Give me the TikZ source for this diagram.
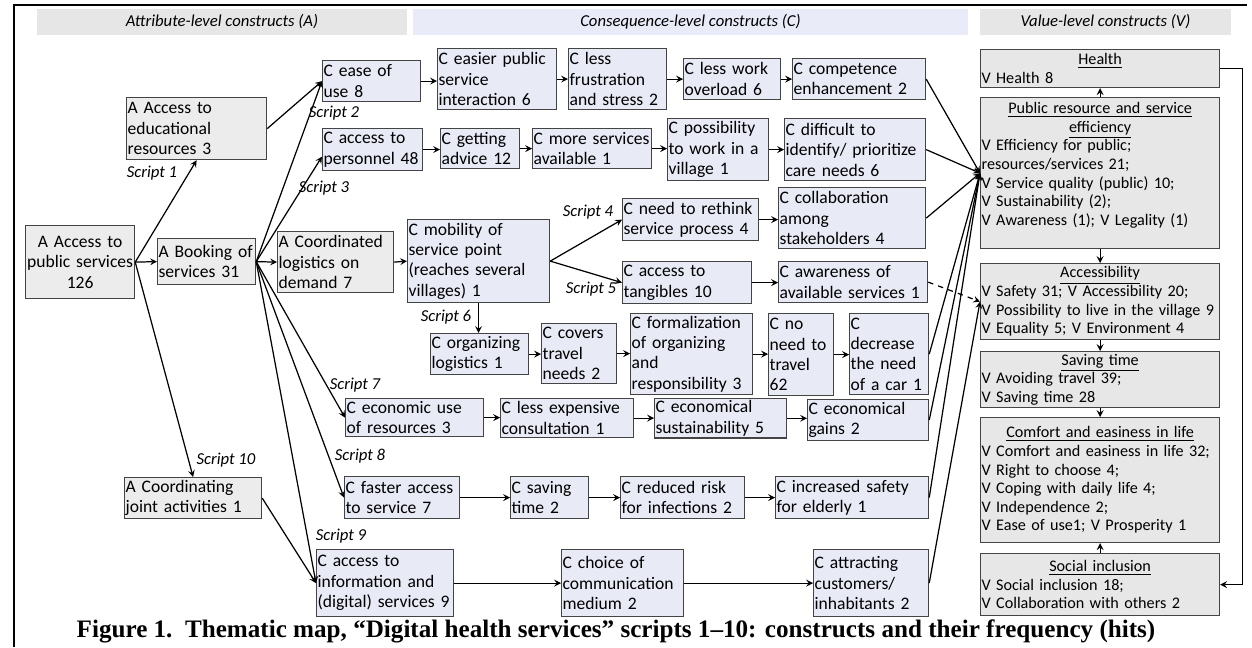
\documentclass[tikz,border=0pt]{standalone}
\usepackage{fontspec}
\setmainfont{Carlito}
\newfontfamily\captionserif{Liberation Serif}
\usetikzlibrary{calc}
\newlength\px
\setlength\px{0.02cm}
\newcommand\boxfont{\fontsize{10}{11.6}\selectfont}
\newcommand\valfont{\fontsize{9.2}{10.6}\selectfont}
\newcommand\scrfont{\fontsize{9.5}{11}\selectfont\itshape}
\definecolor{edgegray}{RGB}{68,68,68}
\definecolor{agray}{RGB}{236,236,236}
\definecolor{clav}{RGB}{232,234,246}
\definecolor{vgray}{RGB}{231,231,231}
\definecolor{hdrgray}{RGB}{230,230,230}
\definecolor{hdrlav}{RGB}{233,235,249}
\tikzset{
	>=stealth,
	abox/.style={draw=edgegray, fill=agray, anchor=north west, inner xsep=1\px, inner ysep=2\px, font=\boxfont, align=left, text width=#1},
	cbox/.style={abox=#1, fill=clav},
	vbox/.style={draw=edgegray, fill=vgray, anchor=north west, inner xsep=1\px, inner ysep=2\px, font=\valfont, align=left, text width=237\px, minimum height=#1},
	scr/.style={font=\scrfont, inner sep=0pt},
	hdr/.style={font=\scrfont, inner sep=0pt, minimum height=26\px},
}

\begin{document}
\begin{tikzpicture}[x=0.02cm, y=-0.02cm, line width=0.7pt]
	\useasboundingbox (0,0) rectangle (1252,647);
	% frame and column headers
	\draw[line width=1.1pt] (14,647) -- (14,5) -- (1247,5);
	\node[hdr, fill=hdrgray, minimum width=370\px] (hA) at (222,22) {Attribute-level constructs (A)};
	\node[hdr, fill=hdrlav, minimum width=555\px] (hC) at (690.5,22) {Consequence-level constructs (C)};
	\node[hdr, fill=hdrgray, minimum width=251\px] (hV) at (1105.5,22) {Value-level constructs (V)};
	
	% attribute level
	\node[abox=107\px, align=center, minimum height=73\px] (apub) at (25,225) {A Access to\\public services\\126};
	\node[abox=138\px, minimum height=62\px] (aedu) at (126,97) {A Access to\\educational\\resources 3};
	\node[abox=96\px, minimum height=46\px] (abook) at (157,238) {A Booking of\\services 31};
	\node[abox=114\px, minimum height=61\px] (alog) at (277,231) {A Coordinated\\logistics on\\demand 7};
	\node[abox=135\px, minimum height=41\px] (ajoint) at (124,477) {A Coordinating\\joint activities 1};
	
	% consequence level
	\node[cbox=96\px, minimum height=41\px] (cease) at (322,60) {C ease of\\use 8};
	\node[cbox=117\px, minimum height=61\px] (ceasier) at (437,48) {C easier public\\service\\interaction 6};
	\node[cbox=96\px, minimum height=61\px] (cfrust) at (568,48) {C less\\frustration\\and stress 2};
	\node[cbox=95\px, minimum height=41\px] (cwork) at (683,58) {C less work\\overload 6};
	\node[cbox=131\px, minimum height=41\px] (ccomp) at (792,58) {C competence\\enhancement 2};
	
	\node[cbox=98\px, minimum height=42\px] (cpers) at (322,128) {C access to\\personnel 48};
	\node[cbox=77\px, minimum height=40\px] (cadvice) at (440,128) {C getting\\advice 12};
	\node[cbox=117\px, minimum height=40\px] (cmore) at (532,128) {C more services\\available 1};
	\node[cbox=99\px, minimum height=62\px] (cvillage) at (667,118) {C possibility\\to work in a\\village 1};
	\node[cbox=139\px, minimum height=62\px] (cdiff) at (784,118) {C difficult to\\identify/ prioritize\\care needs 6};
	
	\node[cbox=140\px, minimum height=83\px] (cmobil) at (407,219) {C mobility of\\service point\\(reaches several\\villages) 1};
	\node[cbox=134\px, minimum height=42\px] (crethink) at (622,198) {C need to rethink\\service process 4};
	\node[cbox=145\px, minimum height=61\px] (ccollab) at (778,187) {C collaboration\\among\\stakeholders 4};
	\node[cbox=127\px, minimum height=42\px] (ctang) at (622,261) {C access to\\tangibles 10};
	\node[cbox=147\px, minimum height=41\px] (caware) at (778,261) {C awareness of\\available services 1};
	
	\node[cbox=96\px, minimum height=41\px] (corg) at (430,333) {C organizing\\logistics 1};
	\node[cbox=73\px, minimum height=60\px] (ctravel) at (541,323) {C covers\\travel\\needs 2};
	\node[cbox=120\px, minimum height=81\px] (cformal) at (630,313) {C formalization\\of organizing\\and\\responsibility 3};
	\node[cbox=63\px, minimum height=82\px] (cnoneed) at (768,313) {C no\\need to\\travel\\62};
	\node[cbox=77\px, minimum height=81\px] (ccar) at (849,313) {C\\decrease\\the need\\of a car 1};
	
	\node[cbox=136\px, minimum height=38\px] (cecouse) at (345,398) {C economic use\\of resources 3};
	\node[cbox=131\px, minimum height=39\px] (cexpens) at (500,398) {C less expensive\\consultation 1};
	\node[cbox=130\px, minimum height=39\px] (csustain) at (654,398) {C economical\\sustainability 5};
	\node[cbox=119\px, minimum height=41\px] (cgains) at (807,399) {C economical\\gains 2};
	
	\node[cbox=113\px, minimum height=42\px] (cfaster) at (344,476) {C faster access\\to service 7};
	\node[cbox=76\px, minimum height=42\px] (csaving) at (510,476) {C saving\\time 2};
	\node[cbox=122\px, minimum height=42\px] (crisk) at (620,476) {C reduced risk\\for infections 2};
	\node[cbox=151\px, minimum height=42\px] (csafety) at (775,476) {C increased safety\\for elderly 1};
	
	\node[cbox=135\px, minimum height=67\px] (cinfo) at (316,549) {C access to\\information and\\(digital) services 9};
	\node[cbox=120\px, minimum height=67\px] (cchoice) at (561,549) {C choice of\\communication\\medium 2};
	\node[cbox=113\px, minimum height=67\px] (cattract) at (813,549) {C attracting\\customers/\\inhabitants 2};
	
	% value level
	\node[vbox=38\px] (vhealth) at (980,49) {{\centering\underline{Health}\par}V Health 8};
	\node[vbox=151\px] (vpublic) at (980,97) {{\centering\underline{Public resource and service}\par\underline{efficiency}\par}V Efficiency for public;\\resources/services 21;\\V Service quality (public) 10;\\V Sustainability (2);\\V Awareness (1); V Legality (1)\par\null};
	\node[vbox=76\px] (vaccess) at (980,263) {{\centering\underline{Accessibility}\par}V Safety 31; V Accessibility 20;\\V Possibility to live in the village 9\\V Equality 5; V Environment 4};
	\node[vbox=56\px] (vsaving) at (980,351) {{\centering\underline{Saving time}\par}V Avoiding travel 39;\\V Saving time 28};
	\node[vbox=125\px] (vcomfort) at (980,417) {{\centering\underline{Comfort and easiness in life}\par}V Comfort and easiness in life 32;\\V Right to choose 4;\\V Coping with daily life 4;\\V Independence 2;\\V Ease of use1; V Prosperity 1};
	\node[vbox=62\px] (vsocial) at (980,553) {{\centering\underline{Social inclusion}\par}V Social inclusion 18;\\V Collaboration with others 2};
	
	% script labels
	\node[scr] (s1) at (152,173) {Script 1};
	\node[scr] (s2) at (334,113) {Script 2};
	\node[scr] (s3) at (324,188) {Script 3};
	\node[scr] (s4) at (588,212) {Script 4};
	\node[scr] (s5) at (591,289) {Script 5};
	\node[scr] (s6) at (446,317) {Script 6};
	\node[scr] (s7) at (355,385) {Script 7};
	\node[scr] (s8) at (360,456) {Script 8};
	\node[scr] (s9) at (341,536) {Script 9};
	\node[scr] (s10) at (226,460) {Script 10};
	
	% links from the attributes
	\draw[->] (apub.east) -- (abook.west);
	\draw[->] (apub.east) -- (aedu.south);
	\draw[->] (apub.east) -- (ajoint.north);
	\draw[->] (aedu.east) -- (cease.west);
	\draw[->] (abook.east) -- (cease.west);
	\draw[->] (abook.east) -- ($(cpers.west)+(0,7)$);
	\draw[->] (abook.east) -- (alog.west);
	\draw[->] (abook.east) -- (cecouse.west);
	\draw[->] (abook.east) -- (cfaster.west);
	\draw[->] (abook.east) -- (cinfo.west);
	\draw[->] (ajoint.east) -- (cinfo.west);
	\draw[->] (alog.east) -- (cmobil.west);
	\draw[->] (cmobil.east) -- (crethink.west);
	\draw[->] (cmobil.east) -- (ctang.west);
	\draw[->] (cmobil.south) -- (cmobil.south |- corg.north);
	
	% chains of consequences
	\foreach \a/\b in {cease/ceasier, ceasier/cfrust, cfrust/cwork, cwork/ccomp,
		cpers/cadvice, cadvice/cmore, cmore/cvillage, cvillage/cdiff,
		crethink/ccollab, ctang/caware,
		corg/ctravel, ctravel/cformal, cformal/cnoneed, cnoneed/ccar,
		cecouse/cexpens, cexpens/csustain, csustain/cgains,
		cfaster/csaving, csaving/crisk, crisk/csafety,
		cinfo/cchoice, cchoice/cattract}
	\draw[->] (\a.east) -- (\a.east -| \b.west);
	
	% consequences to values
	\foreach \n in {ccomp, cdiff, ccollab, ccar, cgains, csafety}
	\draw[->] (\n.east) -- (vpublic.west);
	\draw[->] (cattract.east) -- (vaccess.west);
	\draw[->, dashed] (caware.east) -- (vaccess.west);
	
	% between values
	\draw[->] (vpublic.north) -- (vhealth.south);
	\draw[->] (vpublic.south) -- (vaccess.north);
	\draw[->] (vaccess.south) -- (vsaving.north);
	\draw[->] (vsaving.south) -- (vcomfort.north);
	\draw[->] (vsocial.north) -- (vcomfort.south);
	\draw[->] (vhealth.east) -- ++(22,0) |- (vsocial.east);
	
	% caption
	\node[font=\captionserif\bfseries\fontsize{14.3}{16}\selectfont, inner sep=0pt] (cap) at (616,631) {Figure 1.\ \ Thematic map, “Digital health services” scripts 1–10: constructs and their frequency (hits)};
\end{tikzpicture}
\end{document}
